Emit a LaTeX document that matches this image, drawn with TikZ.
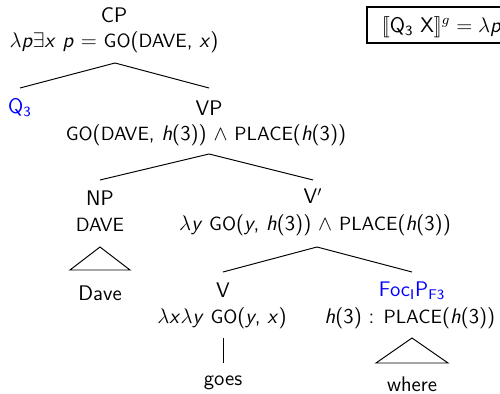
\documentclass[tikz,border=0pt]{standalone}
\usepackage{amssymb}
\usetikzlibrary{calc}
\newcommand\SC[1]{{\fontsize{10.9}{12}\selectfont #1}}
\newcommand\V[1]{\textit{#1}}
\tikzset{
  lbl/.style={font=\sffamily\fontsize{12}{14}\selectfont, inner sep=0pt},
  sem/.style={font=\sffamily\fontsize{12}{14}\selectfont, inner sep=0pt},
  foc/.style={text=blue},
  branch/.style={line width=0.55pt},
  hbox/.style={draw, line width=0.9pt, anchor=west, inner xsep=0.14cm, minimum height=0.72cm, minimum width=3cm, text depth=0.15ex}
}
\begin{document}
\begin{tikzpicture}[x=0.02cm,y=-0.02cm]
\useasboundingbox (0,0) rectangle (500,394);
\clip (0,0) rectangle (500,394);
% root
\node[lbl] (cp) at (114,15) {CP};
\node[sem] (cps) at (114,42) {$\lambda$\V{p}$\exists$\V{x} \V{p} $=$ \SC{GO}(\SC{DAVE}, \V{x})};
\node[lbl,foc] (q) at (20,108) {Q\textsubscript{3}};
\node[lbl] (vp) at (209,108) {VP};
\node[sem] (vps) at (206,135) {\SC{GO}(\SC{DAVE}, \V{h}(3)) $\wedge$ \SC{PLACE}(\V{h}(3))};
\node[lbl] (np) at (100,198) {NP};
\node[sem] (nps) at (100,225) {\SC{DAVE}};
\node[lbl] (dave) at (100,293) {Dave};
\node[lbl] (vb) at (313,196) {V$'$};
\node[sem] (vbs) at (315,225) {$\lambda$\V{y} \SC{GO}(\V{y}, \V{h}(3)) $\wedge$ \SC{PLACE}(\V{h}(3))};
\node[lbl] (v) at (223,290) {V};
\node[sem] (vs) at (222,318) {$\lambda$\V{x}$\lambda$\V{y} \SC{GO}(\V{y}, \V{x})};
\node[lbl] (goes) at (223,383) {goes};
\node[lbl,foc] (fp) at (412,291) {Foc\textsubscript{I}P\textsubscript{F3}};
\node[sem] (fps) at (410,318) {\V{h}(3) : \SC{PLACE}(\V{h}(3))};
\node[lbl] (where) at (412,384) {where};
% box
\node[hbox,font=\sffamily\fontsize{12}{14}\selectfont] (bx) at (366,25) {$[\![$Q\textsubscript{3} X$]\!]^g = \lambda$\V{p}};
% branches
\draw[branch] ($(cps)+(1,21)$) -- ($(q)+(0,-20)$);
\draw[branch] ($(cps)+(1,21)$) -- ($(vp)+(0,-20)$);
\draw[branch] ($(vps)+(3,19)$) -- ($(np)+(0,-18)$);
\draw[branch] ($(vps)+(3,19)$) -- ($(vb)+(0,-16)$);
\draw[branch] ($(vbs)+(2,22)$) -- ($(v)+(0,-18)$);
\draw[branch] ($(vbs)+(2,22)$) -- ($(fp)+(0,-19)$);
\draw[branch] ($(vs)+(1,20)$) -- ($(goes)+(0,-20)$);
\draw[branch] ($(nps)+(0,22)$) -- ++(-30,23) -- ++(60,0) -- cycle;
\draw[branch] ($(fps)+(2,20)$) -- ++(-36,25) -- ++(72,0) -- cycle;
\end{tikzpicture}
\end{document}
